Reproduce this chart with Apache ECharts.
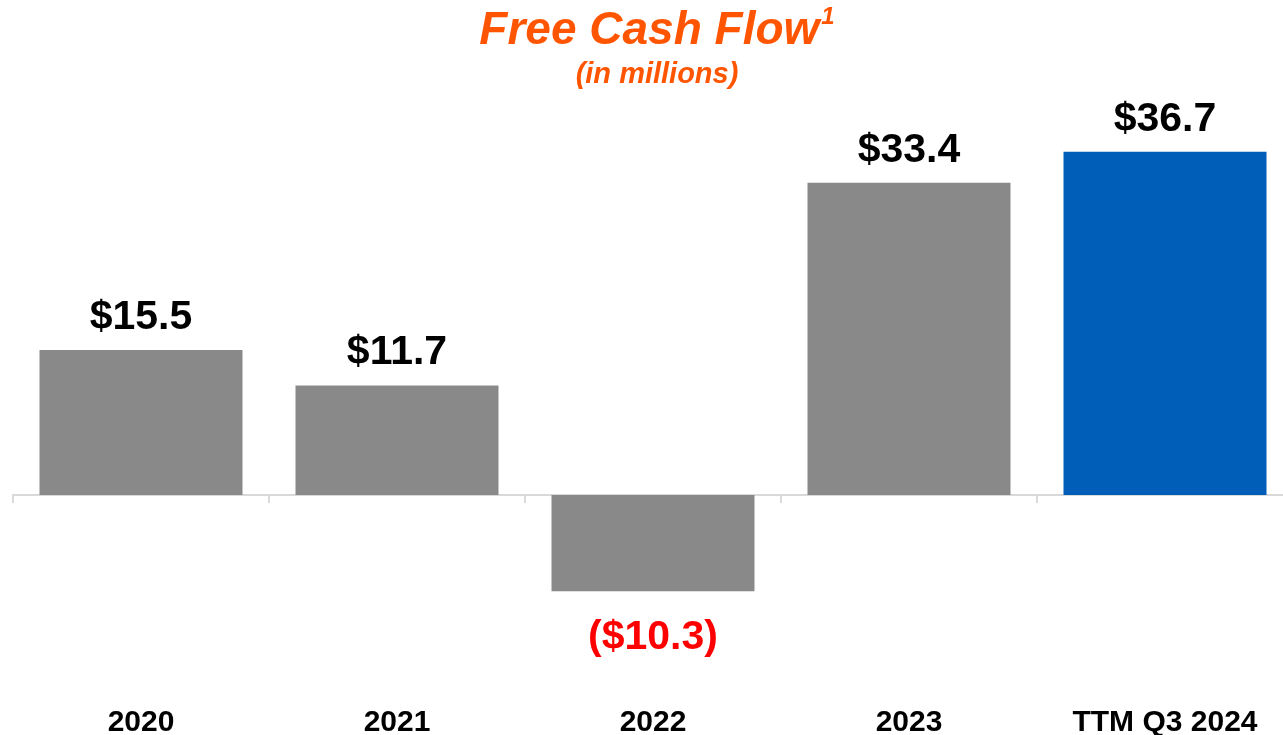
<!DOCTYPE html>
<html>
<head>
<meta charset="utf-8">
<script src="https://cdn.jsdelivr.net/npm/echarts@6/dist/echarts.min.js"></script>
<style>
  html, body { margin: 0; padding: 0; background: #fff; }
  #chart { width: 1283px; height: 735px; }
</style>
</head>
<body>
<div id="chart"></div>
<script>
const categories = ['2020', '2021', '2022', '2023', 'TTM Q3 2024'];
const values = [15.5, 11.7, -10.3, 33.4, 36.7];
const valueLabels = ['$15.5', '$11.7', '($10.3)', '$33.4', '$36.7'];
const barColors = ['#898989', '#898989', '#898989', '#898989', '#005EB8'];

const font = 'Liberation Sans, Arial, sans-serif';
const chart = echarts.init(document.getElementById('chart'));

chart.setOption({
  animation: false,
  title: {
    text: '{a|Free Cash Flow}{b|1}',
    subtext: '(in millions)',
    left: 652,
    textAlign: 'center',
    top: 0,
    itemGap: 4,
    textStyle: {
      rich: {
        a: {fontFamily: font, fontSize: 46, fontWeight: 'bold', fontStyle: 'italic', color: '#FF5500', lineHeight: 52},
        b: {fontFamily: font, fontSize: 24, fontWeight: 'bold', fontStyle: 'italic', color: '#FF5500', verticalAlign: 'top', lineHeight: 52, padding: [0, 0, 14, 2]}
      }
    },
    subtextStyle: {fontFamily: font, fontSize: 29, fontWeight: 'bold', fontStyle: 'italic', color: '#FF5500', lineHeight: 34}
  },
  // v6 shrinks the grid to keep labels inside by default, so switch that off
  grid: {left: 13, width: 1280, top: 121, height: 561, containLabel: false, outerBoundsMode: 'none'},
  xAxis: [{
    type: 'category',
    data: categories,
    axisLine: {onZero: true, lineStyle: {color: '#D9D9D9', width: 2}},
    axisTick: {show: true, length: 8, lineStyle: {color: '#D9D9D9', width: 2}},
    axisLabel: {show: false}
  }, {
    type: 'category',
    data: categories,
    position: 'bottom',
    axisLine: {show: false, onZero: false},
    axisTick: {show: false},
    axisLabel: {margin: 26, fontFamily: font, fontSize: 30, fontWeight: 'bold', color: '#000'}
  }],
  yAxis: {
    type: 'value',
    min: -20,
    max: 40,
    show: false,
    splitLine: {show: false}
  },
  series: [{
    type: 'bar',
    xAxisIndex: 0,
    barWidth: 203,
    data: values.map((v, i) => ({
      value: v,
      itemStyle: {color: barColors[i]},
      label: v < 0
        ? {position: 'bottom', distance: 26, color: '#FF0000'}
        : {position: 'top', distance: 12, color: '#000'}
    })),
    label: {
      show: true,
      fontFamily: font,
      fontSize: 41,
      fontWeight: 'bold',
      formatter: p => valueLabels[p.dataIndex]
    }
  }]
});
</script>
</body>
</html>
